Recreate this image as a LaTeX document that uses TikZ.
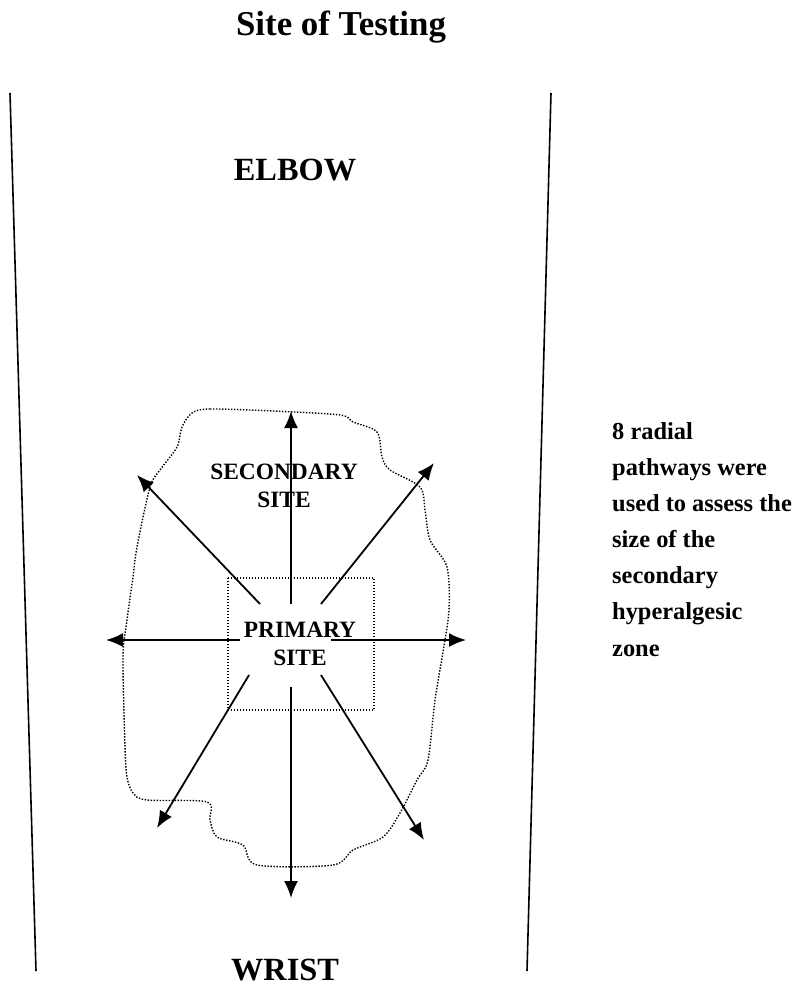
\documentclass[tikz,border=0pt]{standalone}
\usepackage{fontspec}
\setmainfont{Liberation Serif}
\usetikzlibrary{arrows.meta, positioning}

\begin{document}
\begin{tikzpicture}[
    x=1bp, y=-1bp,
    heading/.style={font=\fontsize{32.5}{36}\selectfont\bfseries, inner sep=0pt, anchor=base},
    site/.style={font=\fontsize{23.5}{28}\selectfont\bfseries, align=center, inner sep=0pt, anchor=base},
    note/.style={font=\fontsize{24.5}{36.3}\selectfont\bfseries, align=left, inner sep=0pt, anchor=base west},
    arrow/.style={line width=1.8bp, -{Latex[length=17bp,width=14bp]}},
    zone/.style={line width=1.4bp, dash pattern=on 1.4bp off 1.6bp}
]
\useasboundingbox (0,0) rectangle (804,987);

% Forearm outline
\draw[line width=1.6bp] (10,93) -- (36,971);
\draw[line width=1.6bp] (551,93) -- (527,971);

% Secondary and primary zones
\draw[zone] plot[smooth cycle, tension=0.5] coordinates {
    (192,413) (210,409) (273,411) (340,415) (353,422) (377,432) (382,457)
    (390,470) (420,487) (425,510) (430,540) (447,567) (449,610) (443,652)
    (435,700) (428,760) (417,780) (400,813) (383,837) (353,850) (333,865)
    (257,865) (243,845) (217,837) (210,820) (207,802) (147,800) (133,793)
    (127,777) (125,747) (123,657) (127,620) (133,577) (137,547) (150,487)
    (160,470) (177,447) (182,427)};
\draw[zone, line width=1.1bp] (228,578) rectangle (374,710);

% Labels (multi-line nodes sit on their last baseline)
\node[heading, font=\fontsize{35}{40}\selectfont\bfseries] (title) at (341,35) {Site of Testing};
\node[heading] (elbow) at (295,180) {ELBOW};
\node[heading] (wrist) at (285,980) {WRIST};
\node[site] (secondary) at (284,507) {SECONDARY\\SITE};
\node[site] (primary) at (300,665) {PRIMARY\\SITE};
\node[note] (pathways) at (612,656) {8 radial\\pathways were\\used to assess the\\size of the\\secondary\\hyperalgesic\\zone};

% Radial pathways
\coordinate (up0) at (291,604);   \coordinate (up) at (291,411);
\coordinate (down0) at (291,687); \coordinate (down) at (291,898);
\coordinate (left0) at (240,640); \coordinate (left) at (106,640);
\coordinate (right0) at (331,640);\coordinate (right) at (466,640);
\coordinate (ul0) at (260,604);   \coordinate (ul) at (137,475);
\coordinate (ur0) at (321,604);   \coordinate (ur) at (434,463);
\coordinate (dl0) at (249,675);   \coordinate (dl) at (157,828);
\coordinate (dr0) at (321,675);   \coordinate (dr) at (424,840);

\draw[arrow] (up0) -- (up);
\draw[arrow] (down0) -- (down);
\draw[arrow] (left0) -- (left);
\draw[arrow] (right0) -- (right);
\draw[arrow] (ul0) -- (ul);
\draw[arrow] (ur0) -- (ur);
\draw[arrow] (dl0) -- (dl);
\draw[arrow] (dr0) -- (dr);
\end{tikzpicture}
\end{document}
